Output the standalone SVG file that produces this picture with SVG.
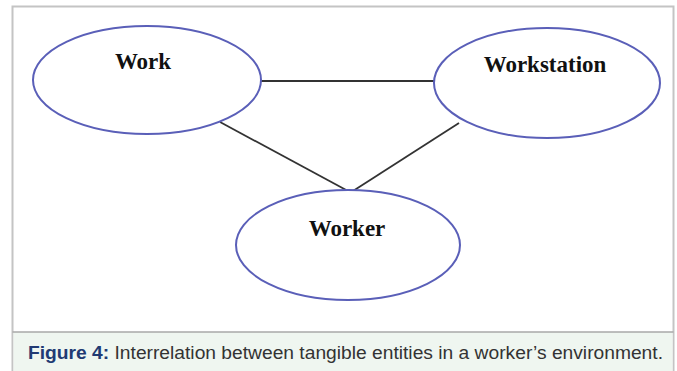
<svg xmlns="http://www.w3.org/2000/svg" width="677" height="371" viewBox="0 0 677 371">
<style>
.node{fill:#fff;stroke:#5a5fb8;stroke-width:2}
.lbl{font-family:"Liberation Serif","Times New Roman",serif;font-weight:bold;font-size:23px;fill:#111;text-anchor:middle}
.edge{stroke:#333;stroke-width:1.8;fill:none}
.cap{font-family:"Liberation Sans",Arial,sans-serif;font-size:17.5px;fill:#333}
</style>
<rect x="12.5" y="6.5" width="661" height="370" fill="#fff" stroke="#c4c4c4" stroke-width="2"/>
<rect x="13.5" y="332" width="659" height="40" fill="#eff6f0"/>
<line x1="12.5" y1="332" x2="673.5" y2="332" stroke="#a8a8a8" stroke-width="1.5"/>
<g id="connectors">
<line class="edge" x1="261" y1="81" x2="434" y2="81"/>
<line class="edge" x1="220" y1="122" x2="348" y2="191"/>
<line class="edge" x1="353" y1="191" x2="459" y2="123"/>
</g>
<g id="work"><ellipse class="node" cx="147" cy="80" rx="114" ry="54"/><text class="lbl" x="143" y="69">Work</text></g>
<g id="workstation"><ellipse class="node" cx="547" cy="83" rx="113" ry="55"/><text class="lbl" x="545" y="72">Workstation</text></g>
<g id="worker"><ellipse class="node" cx="348" cy="245" rx="112" ry="55"/><text class="lbl" x="347" y="236">Worker</text></g>
<text class="cap" x="28" y="359" textLength="635" lengthAdjust="spacingAndGlyphs"><tspan font-weight="bold" fill="#213a73">Figure 4:</tspan> Interrelation between tangible entities in a worker’s environment.</text>
</svg>
